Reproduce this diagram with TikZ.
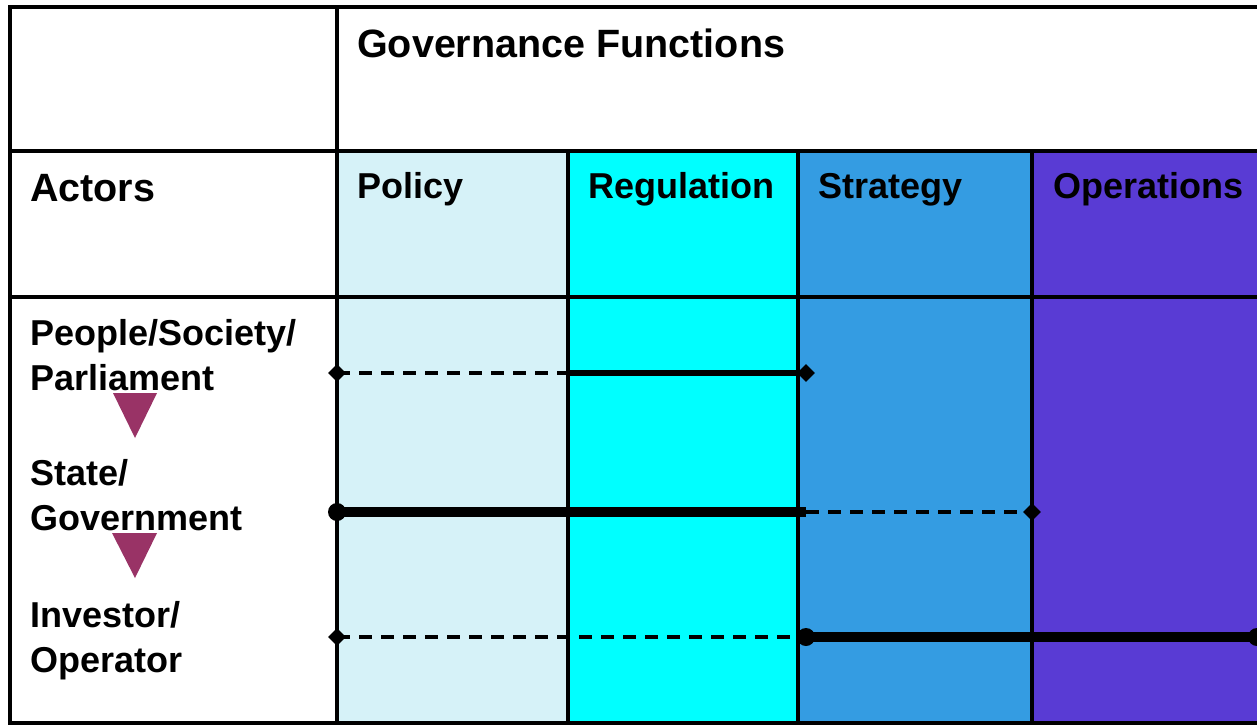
\documentclass[tikz,border=0pt]{standalone}
\usepackage{fontspec}
\setmainfont{Liberation Sans}
\usetikzlibrary{shapes.geometric}
\definecolor{policycol}{RGB}{214,242,248}
\definecolor{regcol}{RGB}{0,255,255}
\definecolor{stratcol}{RGB}{52,156,226}
\definecolor{opcol}{RGB}{89,59,212}
\definecolor{tricol}{RGB}{153,51,102}
\begin{document}
\begin{tikzpicture}[x=1pt,y=-1pt,
  grid/.style={line width=4pt},
  lbl/.style={anchor=base west,inner sep=0pt,font=\bfseries\fontsize{36}{40}\selectfont},
  hdr/.style={anchor=base west,inner sep=0pt,font=\bfseries\fontsize{39.5}{44}\selectfont},
  dsh/.style={line width=4pt,dash pattern=on 13pt off 9pt},
  sld/.style={line width=5.5pt},
  thk/.style={line width=9.5pt},
  dmd/.style={diamond,fill=black,inner sep=0pt,minimum width=18pt,minimum height=18pt},
  dot/.style={circle,fill=black,inner sep=0pt,minimum size=18pt},
  tri/.style={fill=tricol}]
\useasboundingbox (0,0) rectangle (1257,726);
\clip (0,0) rectangle (1257,726);
\fill[white] (0,0) rectangle (1257,726);
% column fills
\fill[policycol] (337,150) rectangle (568,723);
\fill[regcol] (568,150) rectangle (798,723);
\fill[stratcol] (798,150) rectangle (1032,723);
\fill[opcol] (1032,150) rectangle (1265,723);
% grid
\draw[grid] (1265,6.5) -- (9.5,6.5) -- (9.5,723) -- (1265,723);
\draw[grid] (9.5,150.5) -- (1265,150.5);
\draw[grid] (9.5,296.5) -- (1265,296.5);
\draw[grid] (336.5,6.5) -- (336.5,723);
\draw[grid] (568,150.5) -- (568,723);
\draw[grid] (798,150.5) -- (798,723);
\draw[grid] (1032,150.5) -- (1032,723);
% texts
\node[hdr] (gf) at (357,57) {Governance Functions};
\node[hdr] (act) at (30,201) {Actors};
\node[lbl] (pol) at (357,198) {Policy};
\node[lbl] (reg) at (588,198) {Regulation};
\node[lbl] (str) at (818,198) {Strategy};
\node[lbl] (ops) at (1053,198) {Operations};
\node[lbl] (ps1) at (30,345) {People/Society/};
\node[lbl] (ps2) at (30,390) {Parliament};
\node[lbl] (sg1) at (30,485) {State/};
\node[lbl] (sg2) at (30,530) {Government};
\node[lbl] (io1) at (30,627) {Investor/};
\node[lbl] (io2) at (30,672) {Operator};
% triangles
\fill[tri] (113,393) -- (157,393) -- (135,438) -- cycle;
\fill[tri] (112,533) -- (157,533) -- (135,578) -- cycle;
% row 1
\node[dmd] (a1) at (337,373) {};
\coordinate (a2) at (568,373);
\node[dmd] (a3) at (806,373) {};
\draw[dsh] (a1.center) -- (a2);
\draw[sld] (a2) -- (a3.center);
% row 2
\node[dot] (b1) at (337,512) {};
\coordinate (b2) at (806,512);
\node[dmd] (b3) at (1032,512) {};
\draw[thk] (b1.center) -- (b2);
\draw[dsh] (b2) -- (b3.center);
% row 3
\node[dmd] (c1) at (337,637) {};
\node[dot] (c2) at (806,637) {};
\node[dot] (c3) at (1257,637) {};
\draw[dsh] (c1.center) -- (c2.center);
\draw[thk] (c2.center) -- (c3.center);
\end{tikzpicture}
\end{document}
